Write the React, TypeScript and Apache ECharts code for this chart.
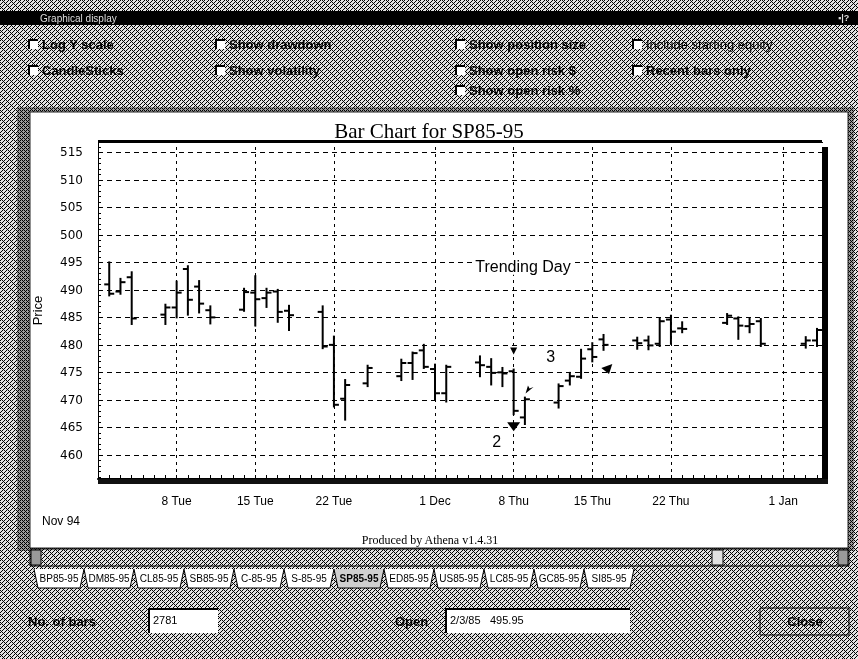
import React, { useEffect, useRef } from 'react';
import * as echarts from 'echarts';

const DAY = 86400000;
function ts(s: string): number {
  const [d, t] = s.split(' ');
  const [y, m, dd] = d.split('-').map(Number);
  const h = t ? Number(t) : 0;
  return Date.UTC(y, m - 1, dd, h);
}

// ---- data ----
const barDates = [
  '1994-11-02', '1994-11-03', '1994-11-04', '1994-11-07', '1994-11-08', '1994-11-09', '1994-11-10', '1994-11-11',
  '1994-11-14', '1994-11-15', '1994-11-16', '1994-11-17', '1994-11-18', '1994-11-21', '1994-11-22', '1994-11-23',
  '1994-11-25', '1994-11-28', '1994-11-29', '1994-11-30', '1994-12-01', '1994-12-02', '1994-12-05', '1994-12-06',
  '1994-12-07', '1994-12-08', '1994-12-09', '1994-12-12', '1994-12-13', '1994-12-14', '1994-12-15', '1994-12-16',
  '1994-12-19', '1994-12-20', '1994-12-21', '1994-12-22', '1994-12-23', '1994-12-27', '1994-12-28', '1994-12-29',
  '1994-12-30', '1995-01-03', '1995-01-04',
];
const opens = [
  491, 489.7, 492.3, 485.5, 486.8, 493.8, 490.6, 486.3,
  486.4, 489.5, 488.5, 489.7, 486.2, 486, 480, 470.2,
  473, 474.3, 476.7, 479, 475.6, 471.2, 476.8, 476,
  475, 475.2, 466.8, 469.5, 473.5, 474.2, 479.2, 481,
  480.8, 480.8, 480.2, 484.6, 483, 484, 484.8, 483.4,
  484.3, 480.2, 480.8,
];
const highs = [
  495, 492, 493.2, 487.3, 491.5, 494.3, 491.6, 487,
  490.2, 492.5, 490.2, 490, 487.1, 487, 481.5, 473.6,
  476.2, 477.3, 478.6, 480, 476.4, 476.2, 477.9, 477.4,
  475.8, 475.5, 470.4, 472.8, 474.9, 479.1, 480.3, 481.8,
  481.3, 481.5, 484.7, 485.3, 484.1, 485.6, 485, 484.7,
  484.7, 481.4, 482.9,
];
const lows = [
  489, 489.3, 483.8, 483.8, 485, 485.5, 485.9, 483.9,
  486.2, 483.5, 486.9, 484.2, 482.7, 479.4, 468.8, 466.4,
  472.5, 473.6, 473.8, 475.8, 470, 469.7, 474.3, 472.8,
  472.5, 467.4, 465.6, 468.6, 472.8, 474, 477, 479.1,
  479.3, 479.2, 479.8, 480.2, 482.3, 483.8, 481.1, 482.3,
  479.8, 479.5, 479.8,
];
const closes = [
  489.3, 491.4, 484.8, 486.8, 489.5, 488.2, 487.5, 485,
  489.6, 488.3, 489.5, 486, 485.4, 479.7, 469.1, 472.7,
  475.8, 476.7, 478.5, 476, 471.2, 476, 476.3, 474.9,
  474.8, 468, 470.1, 472.5, 474.3, 477.5, 477.8, 480,
  480.3, 479.9, 484.3, 482.4, 482.9, 485.3, 483.5, 483.8,
  480.2, 480.8, 482.7,
];

const xTickDates = ['1994-11-08', '1994-11-15', '1994-11-22', '1994-12-01', '1994-12-08', '1994-12-15', '1994-12-22', '1995-01-01'];
const xTickLabels = ['8 Tue', '15 Tue', '22 Tue', '1 Dec', '8 Thu', '15 Thu', '22 Thu', '1 Jan'];
const xMinDate = '1994-11-01';
const xMaxDate = '1995-01-04 15';
const yMin = 455.6;
const yMax = 516.9;

// annotations
const noteTexts = ['Trending Day', '2', '3'];
const noteDates = ['1994-12-08 20', '1994-12-06 12', '1994-12-11 07'];
const notePrices = [494.2, 462.5, 477.8];

const markerDates = ['1994-12-08', '1994-12-08', '1994-12-09 10', '1994-12-16 07'];
const markerPrices = [478.9, 465.1, 471.9, 475.6];
const markerKinds = ['smallDown', 'bigDown', 'arrowSW', 'bigArrow'];

const tabNames = ['BP85-95', 'DM85-95', 'CL85-95', 'SB85-95', 'C-85-95', 'S-85-95', 'SP85-95', 'ED85-95', 'US85-95', 'LC85-95', 'GC85-95', 'SI85-95'];
const selectedTab = 'SP85-95';

function makePattern(dark: boolean) {
  const c = document.createElement('canvas');
  c.width = 8; c.height = 8;
  const ctx = c.getContext('2d')!;
  ctx.fillStyle = dark ? '#9a9a9a' : '#e2e2e2';
  ctx.fillRect(0, 0, 8, 8);
  ctx.fillStyle = '#000';
  for (let i = 0; i < 8; i++) {
    ctx.fillRect((i * 3) % 8, i, 1, 1);
    ctx.fillRect((i * 3 + 4) % 8, i, 1, 1);
    ctx.fillRect((i + 2) % 8, i, 1, 1);
    if (dark) ctx.fillRect((i + 6) % 8, i, 1, 1);
  }
  return c;
}

const ARROW_SW = 'path://M0,10 L3,0 L5,4 L10,2 Z';
const ARROW_BIG = 'path://M0,4 L10,0 L7,10 Z';

export default function App() {
  const ref = useRef<HTMLDivElement>(null);
  useEffect(() => {
    if (!ref.current) return;
    const chart = echarts.init(ref.current, null, { renderer: 'svg' });
    const pat = { image: makePattern(false), repeat: 'repeat', imageWidth: 8, imageHeight: 8 };
    const patDark = { image: makePattern(true), repeat: 'repeat', imageWidth: 8, imageHeight: 8 };

    const labelMap: Record<number, string> = {};
    xTickDates.forEach((d, i) => { labelMap[ts(d)] = xTickLabels[i]; });

    const ohlc = barDates.map((d, i) => [ts(d), opens[i], highs[i], lows[i], closes[i]]);

    const symbolFor = (k: string) => {
      if (k === 'smallDown') return { symbol: 'triangle', symbolRotate: 180, symbolSize: [7, 7] };
      if (k === 'bigDown') return { symbol: 'triangle', symbolRotate: 180, symbolSize: [13, 9] };
      if (k === 'arrowSW') return { symbol: ARROW_SW, symbolSize: [8, 8] };
      return { symbol: ARROW_BIG, symbolSize: [11, 10] };
    };

    const sans = '"Liberation Sans", Arial, sans-serif';
    const serif = '"Liberation Serif", "Times New Roman", serif';

    const checkboxes: any[] = [];
    const cb = (x: number, y: number, label: string, bold = true) => {
      checkboxes.push({ type: 'rect', shape: { x, y: y - 5, width: 10, height: 10 }, style: { fill: '#fff' }, z: 5 });
      checkboxes.push({ type: 'polyline', shape: { points: [[x + 1, y + 5], [x + 1, y - 4], [x + 10, y - 4]] }, style: { stroke: '#000', lineWidth: 2, fill: null }, z: 5 });
      checkboxes.push({ type: 'text', x: x + 14, y, style: { text: label, font: `${bold ? 'bold ' : ''}13px ${sans}`, fill: '#000', verticalAlign: 'middle' }, z: 5 });
    };
    cb(28, 44, 'Log Y scale'); cb(28, 70, 'CandleSticks');
    cb(215, 44, 'Show drawdown'); cb(215, 70, 'Show volatility');
    cb(455, 44, 'Show position size'); cb(455, 70, 'Show open risk $'); cb(455, 90, 'Show open risk %');
    cb(632, 44, 'Include starting equity', false); cb(632, 70, 'Recent bars only');

    const tabEls: any[] = [];
    const tabX0 = 34, tabW = 50;
    tabNames.forEach((n, i) => {
      const x = tabX0 + i * tabW;
      const sel = n === selectedTab;
      tabEls.push({ type: 'polyline', shape: { points: [[x, 569], [x + 4, 588], [x + tabW - 4, 588], [x + tabW, 569]] }, style: { stroke: '#000', lineWidth: 1, fill: sel ? '#cfcfcf' : '#fff' }, z: 5 });
      tabEls.push({ type: 'text', x: x + tabW / 2, y: 578, style: { text: n, font: `${sel ? 'bold ' : ''}10px ${sans}`, fill: '#000', align: 'center', verticalAlign: 'middle' }, z: 6 });
    });

    const option: any = {
      animation: false,
      title: {
        text: 'Bar Chart for SP85-95', left: 'center', top: 115,
        textStyle: { fontFamily: serif, fontSize: 21, fontWeight: 'normal', color: '#000' },
      },
      grid: { left: 98, top: 142, width: 726, height: 337, containLabel: false, outerBoundsMode: 'none' },
      xAxis: {
        type: 'value', min: ts(xMinDate), max: ts(xMaxDate), interval: DAY,
        axisLine: { show: true, lineStyle: { color: '#000', width: 2 } },
        axisTick: { show: true, inside: true, length: 4, lineStyle: { color: '#000' } },
        axisLabel: {
          formatter: (v: number) => labelMap[v] ?? '', margin: 16,
          fontFamily: sans, fontSize: 12, color: '#000', showMinLabel: true, showMaxLabel: true,
        },
        splitLine: { show: false },
      },
      yAxis: {
        type: 'value', min: yMin, max: yMax, splitNumber: 12, minInterval: 5, maxInterval: 5,
        name: 'Price', nameLocation: 'middle', nameRotate: 90, nameGap: 54,
        nameTextStyle: { fontFamily: sans, fontSize: 13, color: '#000' },
        axisLine: { show: true, lineStyle: { color: '#000', width: 1 } },
        axisTick: { show: true, inside: true, length: 4, lineStyle: { color: '#000' } },
        minorTick: { show: true, splitNumber: 5, length: 3, lineStyle: { color: '#000' } },
        axisLabel: {
          formatter: (v: number) => (Math.abs(v % 5) < 1e-6 ? String(v) : ''), margin: 15,
          fontFamily: '"DejaVu Sans", sans-serif', fontSize: 12, color: '#000',
        },
        splitLine: { show: true, lineStyle: { color: '#000', width: 1, type: [5, 4] } },
      },
      series: [
        {
          type: 'custom', name: 'SP', data: ohlc, encode: { x: 0, y: [1, 2, 3, 4] }, z: 5,
          renderItem: (_p: any, api: any) => {
            const x = api.value(0);
            const o = api.coord([x, api.value(1)]);
            const h = api.coord([x, api.value(2)]);
            const l = api.coord([x, api.value(3)]);
            const c = api.coord([x, api.value(4)]);
            const style = { stroke: '#000', lineWidth: 2 };
            return {
              type: 'group', children: [
                { type: 'line', shape: { x1: h[0], y1: h[1] - 1, x2: l[0], y2: l[1] + 1 }, style },
                { type: 'line', shape: { x1: o[0] - 5, y1: o[1], x2: o[0], y2: o[1] }, style },
                { type: 'line', shape: { x1: c[0], y1: c[1], x2: c[0] + 5, y2: c[1] }, style },
              ],
            };
          },
        },
        {
          type: 'scatter', name: 'markers', z: 6, silent: true,
          itemStyle: { color: '#000', opacity: 1 },
          data: markerDates.map((d, i) => ({ value: [ts(d), markerPrices[i]], ...symbolFor(markerKinds[i]) })),
          markLine: {
            silent: true, symbol: 'none', label: { show: false }, z: 1,
            lineStyle: { color: '#000', width: 1, type: [3, 4], opacity: 1 },
            data: xTickDates.map((d) => ({ xAxis: ts(d) })),
          },
        },
        {
          type: 'scatter', name: 'notes', z: 7, silent: true, symbolSize: 1,
          itemStyle: { color: '#fff', opacity: 1 },
          data: noteDates.map((d, i) => ({ value: [ts(d), notePrices[i]], name: noteTexts[i] })),
          label: {
            show: true, position: 'inside', formatter: (p: any) => p.name,
            fontFamily: sans, fontSize: 16, color: '#000', opacity: 1, backgroundColor: '#fff', padding: [0, 2],
          },
        },
      ],
      graphic: [
        // window background
        { type: 'rect', shape: { x: 0, y: 0, width: 858, height: 659 }, style: { fill: pat as any }, z: -100 },
        { type: 'rect', shape: { x: 0, y: 11, width: 858, height: 14 }, style: { fill: '#000' }, z: -90 },
        { type: 'text', x: 40, y: 18, style: { text: 'Graphical display', font: `10px ${sans}`, fill: '#ddd', verticalAlign: 'middle' }, z: -80 },
        { type: 'text', x: 838, y: 18, style: { text: '▪|?', font: `bold 9px ${sans}`, fill: '#ddd', verticalAlign: 'middle' }, z: -80 },
        ...checkboxes,
        // chart panel
        { type: 'rect', shape: { x: 17, y: 107, width: 837, height: 444 }, style: { fill: patDark as any }, z: -90 },
        { type: 'rect', shape: { x: 30, y: 112, width: 818, height: 436 }, style: { fill: '#fff', stroke: '#222', lineWidth: 1 }, z: -80 },
        // plot frame
        { type: 'rect', shape: { x: 98, y: 140, width: 724, height: 3 }, style: { fill: '#000' }, z: 50 },
        { type: 'rect', shape: { x: 822, y: 147, width: 6, height: 337 }, style: { fill: '#000' }, z: 50 },
        { type: 'rect', shape: { x: 98, y: 479, width: 730, height: 5 }, style: { fill: '#111' }, z: 50 },
        { type: 'text', x: 42, y: 521, style: { text: 'Nov 94', font: `12px ${sans}`, fill: '#000', verticalAlign: 'middle' }, z: 5 },
        { type: 'text', x: 430, y: 540, style: { text: 'Produced by Athena v1.4.31', font: `12px ${serif}`, fill: '#000', align: 'center', verticalAlign: 'middle' }, z: 5 },
        // scrollbar
        { type: 'rect', shape: { x: 30, y: 549, width: 819, height: 17 }, style: { fill: pat as any, stroke: '#000', lineWidth: 1 }, z: -70 },
        { type: 'rect', shape: { x: 31, y: 550, width: 10, height: 15 }, style: { fill: '#999', stroke: '#000', lineWidth: 1 }, z: 5 },
        { type: 'rect', shape: { x: 838, y: 550, width: 10, height: 15 }, style: { fill: '#999', stroke: '#000', lineWidth: 1 }, z: 5 },
        { type: 'rect', shape: { x: 712, y: 550, width: 11, height: 15 }, style: { fill: '#e0e0e0', stroke: '#000', lineWidth: 1 }, z: 5 },
        ...tabEls,
        // bottom controls
        { type: 'text', x: 28, y: 621, style: { text: 'No. of bars', font: `bold 13px ${sans}`, fill: '#000', verticalAlign: 'middle' }, z: 5 },
        { type: 'rect', shape: { x: 148, y: 608, width: 70, height: 25 }, style: { fill: '#fff' }, z: 5 },
        { type: 'polyline', shape: { points: [[149, 633], [149, 609], [218, 609]] }, style: { stroke: '#000', lineWidth: 2, fill: null }, z: 5 },
        { type: 'text', x: 153, y: 620, style: { text: '2781', font: `11px ${sans}`, fill: '#000', verticalAlign: 'middle' }, z: 6 },
        { type: 'text', x: 395, y: 621, style: { text: 'Open', font: `bold 13px ${sans}`, fill: '#000', verticalAlign: 'middle' }, z: 5 },
        { type: 'rect', shape: { x: 445, y: 608, width: 185, height: 25 }, style: { fill: '#fff' }, z: 5 },
        { type: 'polyline', shape: { points: [[446, 633], [446, 609], [630, 609]] }, style: { stroke: '#000', lineWidth: 2, fill: null }, z: 5 },
        { type: 'text', x: 450, y: 620, style: { text: '2/3/85', font: `11px ${sans}`, fill: '#000', verticalAlign: 'middle' }, z: 6 },
        { type: 'text', x: 490, y: 620, style: { text: '495.95', font: `11px ${sans}`, fill: '#000', verticalAlign: 'middle' }, z: 6 },
        { type: 'rect', shape: { x: 760, y: 608, width: 89, height: 27 }, style: { fill: pat as any, stroke: '#000', lineWidth: 1 }, z: 5 },
        { type: 'text', x: 805, y: 621, style: { text: 'Close', font: `bold 13px ${sans}`, fill: '#000', align: 'center', verticalAlign: 'middle' }, z: 6 },
      ],
    };
    chart.setOption(option);
    return () => chart.dispose();
  }, []);
  return <div ref={ref} style={{ position: 'fixed', left: 0, top: 0, width: 858, height: 659 }} />;
}
